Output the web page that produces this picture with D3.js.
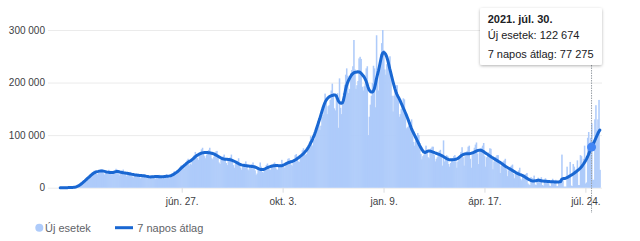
<!DOCTYPE html>
<html><head><meta charset="utf-8">
<script src="https://cdn.jsdelivr.net/npm/d3@7"></script>
<style>
body{margin:0;background:#fff;}
svg{display:block;font-family:"Liberation Sans",Arial,sans-serif;}
</style>
</head><body>
<svg id="chart" width="640" height="241"></svg>
<script>
// ---- DATA (values in thousands of cases, one row per week, weeks start on Sunday) ----
const startDate = "2020-03-01";
const dailyCasesK = [
0.01,0.02,0.03,0.03,0.06,0.08,0.07,
0.12,0.17,0.25,0.35,0.45,0.7,0.9,
1.2,1.6,2.4,3.4,4.6,6.2,7.5,
8.8,10.5,12.0,13.5,16.5,19.0,19.5,
19.0,20.5,25.0,27.0,30.0,32.5,33.0,
26.5,25.5,29.5,32.0,34.0,35.0,34.0,
27.5,25.0,28.0,30.5,32.0,34.0,32.0,
26.0,25.0,27.5,29.5,32.0,36.0,34.5,
27.0,23.5,27.0,30.0,32.5,34.5,30.0,
25.0,22.0,25.5,27.5,29.0,30.0,27.5,
21.5,19.5,23.0,25.0,27.0,26.5,25.5,
20.0,18.0,21.5,23.0,25.0,26.0,23.5,
19.0,17.0,19.5,20.5,22.5,24.0,22.5,
18.0,17.0,20.0,21.5,23.0,24.5,22.5,
18.5,17.0,19.5,21.5,23.5,25.5,23.0,
19.5,18.0,21.5,24.5,27.5,30.5,31.5,
26.0,25.5,30.0,34.5,38.5,42.0,43.0,
38.5,36.0,43.5,48.0,52.0,55.0,42.0,
46.0,44.0,52.0,59.0,62.0,68.0,63.0,
57.0,53.0,61.0,67.0,73.0,76.0,66.0,
60.0,56.0,63.0,70.0,72.0,76.0,67.0,
56.0,54.0,59.0,67.0,69.0,70.0,59.0,
48.0,45.0,53.0,56.0,60.0,63.0,57.0,
47.0,43.0,51.0,55.0,58.0,63.0,54.0,
43.0,38.0,45.0,48.0,51.0,56.0,48.0,
38.0,34.0,41.0,44.0,46.0,50.0,45.0,
35.0,33.0,39.0,41.0,45.0,48.0,42.0,
33.0,24.0,27.0,37.0,36.0,48.0,40.0,
30.0,29.0,35.0,38.0,43.0,46.0,41.0,
35.0,34.0,39.0,41.0,46.0,48.0,44.0,
35.0,34.0,40.0,42.0,45.0,53.0,45.0,
39.0,38.0,44.0,49.0,55.0,56.0,52.0,
44.0,42.0,48.0,54.0,62.0,64.0,56.0,
50.0,49.0,59.0,61.0,71.0,75.0,68.0,
62.0,64.0,74.0,79.0,88.0,98.0,82.0,
80.0,90.0,92.0,103.0,118.0,127.0,129.0,
110.0,118.0,135.0,139.0,161.0,179.0,162.0,
140.0,155.0,157.0,167.0,185.0,198.0,180.0,
151.0,147.0,171.0,180.0,114.0,208.0,152.0,
140.0,158.0,180.0,196.0,215.0,227.0,213.0,
180.0,188.0,218.0,224.0,231.0,281.0,225.0,
188.0,195.0,203.0,246.0,249.0,245.0,192.0,
185.0,193.0,198.0,227.0,231.0,100.0,135.0,
158.0,175.0,199.0,232.0,227.0,153.0,290.0,
210.0,185.0,230.0,255.0,275.0,300.0,262.0,
225.0,215.0,235.0,245.0,240.0,250.0,205.0,
175.0,145.0,175.0,185.0,195.0,195.0,170.0,
135.0,140.0,150.0,155.0,170.0,168.0,142.0,
113.0,115.0,117.0,122.0,125.0,130.0,103.0,
87.0,80.0,90.0,96.0,104.0,100.0,85.0,
64.0,54.0,60.0,63.0,68.0,80.0,72.0,
58.0,56.0,72.0,75.0,78.0,78.0,62.0,
50.0,55.0,58.0,67.0,70.0,72.0,60.0,
42.0,90.0,50.0,56.0,62.0,60.0,45.0,
40.0,47.0,52.0,56.0,60.0,62.0,50.0,
38.0,50.0,55.0,62.0,68.0,77.0,58.0,
42.0,60.0,62.0,70.0,78.0,80.0,55.0,
38.0,62.0,70.0,76.0,82.0,86.0,65.0,
45.0,68.0,75.0,76.0,80.0,85.0,60.0,
40.0,58.0,64.0,67.0,75.0,74.0,55.0,
35.0,50.0,58.0,59.0,62.0,62.0,46.0,
28.0,42.0,46.0,50.0,52.0,55.0,35.0,
22.0,33.0,38.0,40.0,42.0,44.0,26.0,
18.0,27.0,30.0,30.0,33.0,38.0,17.0,
14.0,23.0,25.0,24.0,26.0,28.0,8.0,
6.0,5.0,20.0,18.0,18.0,23.0,6.0,
5.0,16.0,19.0,15.0,17.0,20.0,5.0,
4.0,16.0,18.0,14.0,15.0,14.0,4.0,
3.0,14.0,17.0,13.0,14.0,15.0,3.0,
3.0,13.0,15.0,12.0,63.0,14.0,2.0,
2.0,2.0,40.0,22.0,25.0,49.0,4.0,
3.0,45.0,40.0,30.0,35.0,52.0,5.0,
5.0,62.0,60.0,45.0,55.0,80.0,8.0,
10.0,95.0,106.0,80.0,95.0,122.674,15.0,
15.0,130.0,157.0,110.0,130.0,167.0,34.0
];
const avg7K = [
0.01,0.01,0.02,0.02,0.03,0.05,0.07,
0.1,0.15,0.2,0.3,0.4,0.55,0.75,
1.0,1.4,2.0,2.8,3.8,5.0,6.5,
8.0,9.8,11.5,13.2,15.0,16.8,18.5,
20.2,22.0,23.8,25.5,27.0,28.3,29.3,
30.0,30.6,31.0,31.5,31.8,31.9,31.8,
31.5,31.0,30.5,30.0,29.6,29.2,29.0,
28.8,28.7,28.9,29.4,30.0,30.6,31.0,
30.8,30.3,29.8,29.4,29.0,28.6,28.2,
27.9,27.6,27.3,27.0,26.6,26.2,25.8,
25.4,25.0,24.6,24.3,24.0,23.8,23.6,
23.4,23.2,23.0,22.8,22.6,22.3,22.0,
21.6,21.2,20.8,20.6,20.5,20.6,20.8,
21.0,21.2,21.3,21.3,21.2,21.0,20.9,
20.8,20.9,21.0,21.2,21.4,21.6,21.8,
22.0,22.3,22.7,23.3,24.2,25.3,26.5,
27.8,29.2,30.8,32.5,34.3,36.2,38.0,
39.8,41.5,43.2,45.0,46.8,48.2,49.5,
50.5,51.8,53.3,55.0,56.8,58.6,60.2,
61.5,62.7,63.8,64.8,65.6,66.2,66.6,
66.8,67.0,67.0,66.8,66.6,66.3,66.0,
65.6,65.0,64.3,63.4,62.4,61.3,60.2,
59.0,57.8,56.6,55.6,54.9,54.5,54.3,
54.2,54.0,53.8,53.5,53.1,52.6,52.0,
51.2,50.3,49.3,48.2,47.1,46.0,45.0,
44.2,43.5,43.0,42.6,42.3,42.0,41.7,
41.4,41.1,40.8,40.6,40.4,40.2,40.0,
39.4,38.6,37.7,36.8,35.9,35.2,34.7,
34.5,34.6,35.2,36.0,37.0,38.0,38.8,
39.5,40.1,40.7,41.2,41.6,41.9,42.1,
42.2,42.1,41.9,41.7,41.6,41.8,42.4,
43.2,44.2,45.2,46.2,47.2,48.0,48.7,
49.3,49.9,50.6,51.5,52.6,53.8,55.2,
56.6,58.0,59.5,61.0,62.7,64.5,66.5,
68.7,71.0,73.8,77.0,80.5,84.2,88.0,
92.0,96.5,101.5,107.0,113.0,119.0,125.0,
131.0,137.5,144.0,150.5,156.5,161.5,165.5,
168.5,170.8,172.5,173.8,174.8,175.5,176.0,
176.3,176.2,175.0,170.5,165.5,162.5,161.0,
160.5,161.0,166.0,175.0,185.5,193.5,199.5,
204.0,208.0,211.5,214.5,216.8,218.3,219.3,
219.8,220.2,220.4,220.3,219.6,218.0,215.8,
213.5,211.0,207.5,203.0,197.5,191.0,186.0,
183.5,182.2,182.0,183.5,188.0,196.0,206.0,
214.0,222.0,231.0,240.5,249.5,255.5,257.5,
256.5,254.0,249.5,243.0,235.0,226.5,219.0,
211.0,203.0,195.5,188.5,182.5,177.5,173.5,
170.0,166.0,161.5,157.0,152.5,148.0,143.5,
139.0,134.0,129.0,123.5,118.0,113.0,108.5,
104.5,100.5,96.5,92.5,88.5,84.5,80.5,
77.0,73.5,70.5,68.0,67.0,67.5,68.5,
69.5,70.0,69.8,69.2,68.5,67.8,67.0,
66.2,65.5,64.8,64.0,63.2,62.3,61.4,
60.4,59.2,58.0,56.8,55.6,54.6,53.8,
53.2,53.0,53.0,53.2,53.4,53.6,54.0,
54.6,55.6,57.0,58.6,60.2,61.6,62.8,
63.6,64.2,64.5,64.7,64.8,64.8,65.0,
65.3,65.9,66.7,67.6,68.6,69.6,70.4,
71.0,71.4,71.4,70.9,70.0,68.7,67.3,
66.0,64.7,63.4,62.0,60.6,59.3,58.0,
56.8,55.6,54.4,53.2,52.0,50.8,49.5,
48.2,46.9,45.6,44.2,42.8,41.4,40.0,
38.8,37.6,36.5,35.4,34.2,33.0,31.8,
30.6,29.4,28.3,27.3,26.4,25.5,24.7,
23.9,23.0,22.0,20.8,19.5,18.2,17.0,
15.8,14.7,13.8,13.2,12.9,12.8,13.0,
13.4,13.8,14.0,14.0,13.7,13.3,12.9,
12.6,12.4,12.3,12.2,12.0,11.8,11.6,
11.4,11.3,11.2,11.1,11.0,10.9,10.9,
10.9,11.0,11.2,11.8,16.0,17.2,17.4,
17.6,18.2,19.0,20.0,21.2,22.4,23.6,
24.8,26.0,27.4,28.9,30.4,32.0,33.6,
35.2,37.0,39.2,41.8,44.6,47.6,50.8,
54.4,58.4,63.0,68.0,72.8,77.275,81.2,
85.0,89.2,93.6,98.2,102.6,106.4,109.5
];
const yTickValuesK = [0, 100, 200, 300];
const xTickDates = ["2020-06-27", "2020-10-03", "2021-01-09", "2021-04-17", "2021-07-24"];
const xTickLabels = ["jún. 27.", "okt. 3.", "jan. 9.", "ápr. 17.", "júl. 24."];
const legendLabels = ["Új esetek", "7 napos átlag"];
const tooltipDate = "2021-07-30";
const tooltipTitle = "2021. júl. 30.";

// ---- CHART ----
const parse = d3.timeParse("%Y-%m-%d");
const t0 = parse(startDate);
const rows = dailyCasesK.map((v, i) => ({date: d3.timeDay.offset(t0, i), cases: v, avg: avg7K[i]}));

const svg = d3.select("#chart");
const barColor = "#aecbfa", lineColor = "#1967d2";
const plotLeft = 48, plotRight = 602, y0 = 187.7, yTop = 30;

const x = d3.scaleTime()
  .domain([rows[0].date, rows[rows.length - 1].date])
  .range([60.2, 599.8]);
const y = d3.scaleLinear().domain([0, 300]).range([y0, yTop]);

const fmt = v => d3.format(",")(Math.round(v)).replace(/,/g, " ");

// y axis + gridlines
const yAxis = svg.append("g").attr("transform", `translate(${plotLeft},0)`)
  .call(d3.axisLeft(y).tickValues(yTickValuesK).tickSize(-(plotRight - plotLeft)).tickPadding(3)
    .tickFormat(d => fmt(d * 1000)));
yAxis.select(".domain").remove();
yAxis.selectAll("line").attr("stroke", "#ebebeb");
yAxis.selectAll("text").attr("font-size", 10).attr("fill", "#3c4043")
  .attr("font-family", "Liberation Sans, Arial, sans-serif");

// bars
const bw = x(rows[1].date) - x(rows[0].date);
svg.append("g").selectAll("rect").data(rows).join("rect")
  .attr("x", d => x(d.date) - bw / 2)
  .attr("width", bw + 0.5)
  .attr("y", d => y(d.cases))
  .attr("height", d => y0 - y(d.cases))
  .attr("fill", barColor);

// x axis
const xAxis = svg.append("g").attr("transform", `translate(0,${y0})`)
  .call(d3.axisBottom(x).tickValues(xTickDates.map(parse)).tickSize(5).tickPadding(5.7)
    .tickFormat((d, i) => xTickLabels[i]));
xAxis.select(".domain").remove();
xAxis.selectAll("line").attr("stroke", "#dadce0");
xAxis.selectAll("text").attr("font-size", 10).attr("fill", "#3c4043")
  .attr("font-family", "Liberation Sans, Arial, sans-serif");

// 7-day average line
svg.append("path").datum(rows)
  .attr("fill", "none").attr("stroke", lineColor).attr("stroke-width", 3)
  .attr("stroke-linejoin", "round").attr("stroke-linecap", "round")
  .attr("d", d3.line().x(d => x(d.date)).y(d => y(d.avg)));

// hover marker + tooltip
const tipRow = rows.find(r => +r.date === +parse(tooltipDate));
const tx = x(tipRow.date);
svg.append("line").attr("x1", tx).attr("x2", tx).attr("y1", 65).attr("y2", 213)
  .attr("stroke", "#9aa0a6").attr("stroke-width", 1).attr("stroke-dasharray", "1.5,1");
svg.append("circle").attr("cx", tx).attr("cy", y(tipRow.avg)).attr("r", 4.5).attr("fill", "#4285f4");

const defs = svg.append("defs");
const f = defs.append("filter").attr("id", "sh").attr("x", "-20%").attr("y", "-20%").attr("width", "140%").attr("height", "150%");
f.append("feDropShadow").attr("dx", 0).attr("dy", 1).attr("stdDeviation", 1.5).attr("flood-color", "#000").attr("flood-opacity", 0.3);
svg.append("rect").attr("x", 480).attr("y", 8).attr("width", 122).attr("height", 57).attr("rx", 2)
  .attr("fill", "#fff").attr("filter", "url(#sh)");
const tip = svg.append("g").attr("font-size", 11).attr("fill", "#202124");
tip.append("text").attr("x", 487.7).attr("y", 22.5).attr("font-weight", "bold").text(tooltipTitle);
tip.append("text").attr("x", 487.7).attr("y", 39).text(`${legendLabels[0]}: ${fmt(tipRow.cases * 1000)}`);
tip.append("text").attr("x", 487.7).attr("y", 57.5).text(`${legendLabels[1]}: ${fmt(tipRow.avg * 1000)}`);

// legend
const lg = svg.append("g").attr("font-size", 11).attr("fill", "#5f6368");
lg.append("circle").attr("cx", 39.3).attr("cy", 227.7).attr("r", 4).attr("fill", barColor);
lg.append("text").attr("x", 45).attr("y", 231.6).text(legendLabels[0]);
lg.append("line").attr("x1", 115).attr("x2", 133).attr("y1", 227.7).attr("y2", 227.7)
  .attr("stroke", lineColor).attr("stroke-width", 3);
lg.append("text").attr("x", 137.3).attr("y", 231.6).text(legendLabels[1]);
</script>
</body></html>
